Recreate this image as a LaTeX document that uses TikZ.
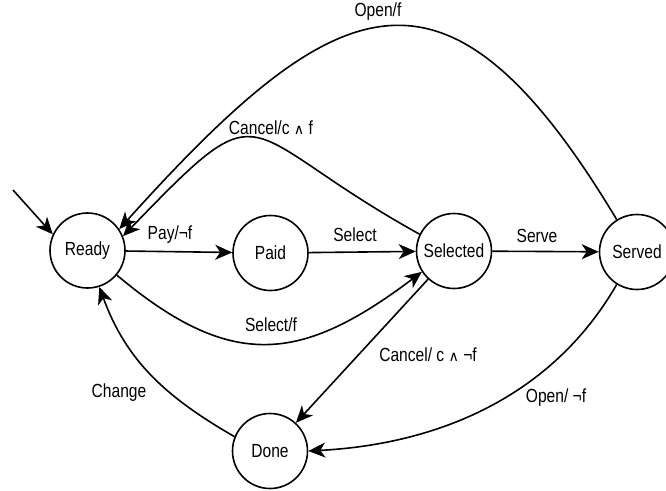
\documentclass[tikz,border=0pt]{standalone}
\usepackage{fontspec}
\setmainfont{Liberation Sans}[FakeStretch=0.82]
\newfontfamily\symf{DejaVu Sans}[Scale=0.75]
\usetikzlibrary{arrows.meta}
\newcommand{\andsym}{{\symf ∧}}
\begin{document}
\begin{tikzpicture}[x=1pt,y=-1pt,
  lbl/.style={font=\fontsize{19}{22}\selectfont, inner sep=0pt},
  state/.style={draw, circle, line width=1.6pt, minimum size=75pt, inner sep=0pt,
    font=\fontsize{19}{22}\selectfont},
  edge/.style={line width=1.6pt, -{Stealth[length=17pt, width=15pt, inset=5pt]}}]
\useasboundingbox (0,0) rectangle (666,490);

% states
\node[state] (ready) at (87.5,250.5) {Ready};
\node[state] (paid) at (270.5,253) {Paid};
\node[state] (sel) at (454,251) {Selected};
\node[state] (served) at (637,252) {Served};
\node[state] (done) at (270,451) {Done};

% initial transition
\coordinate (init) at (13,190);
\draw[edge] (init) -- (ready.155);

% straight transitions
\draw[edge] (ready) -- (paid);
\draw[edge] (paid) -- (sel);
\draw[edge] (sel) -- (served);
\draw[edge] (sel) -- (done);

% curved transitions
\draw[edge] (served.122) to[out=121, in=48, looseness=1.69] (ready.34);
\draw[edge] (sel.154) to[out=151, in=46, looseness=1.84] (ready.22);
\draw[edge] (ready.-40) to[out=-40, in=-143, looseness=1.26] (sel.-147);
\draw[edge] (served.-122) to[out=-120, in=3, looseness=0.95] (done.east);
\draw[edge] (done.158) to[out=150, in=-70, looseness=1.0] (ready.-72);

% transition labels
\node[lbl] (lpay) at (170,235) {Pay/¬f};
\node[lbl] (lselect) at (355,235) {Select};
\node[lbl] (lserve) at (537,236) {Serve};
\node[lbl] (lselectf) at (271,325) {Select/f};
\node[lbl] (lopenf) at (378,12) {Open/f};
\node[lbl] (lcancelf) at (271,128) {Cancel/c \andsym\ f};
\node[lbl] (lcancelnf) at (428,355) {Cancel/ c \andsym\ ¬f};
\node[lbl] (lopennf) at (556,398) {Open/ ¬f};
\node[lbl] (lchange) at (119,393) {Change};
\end{tikzpicture}
\end{document}
